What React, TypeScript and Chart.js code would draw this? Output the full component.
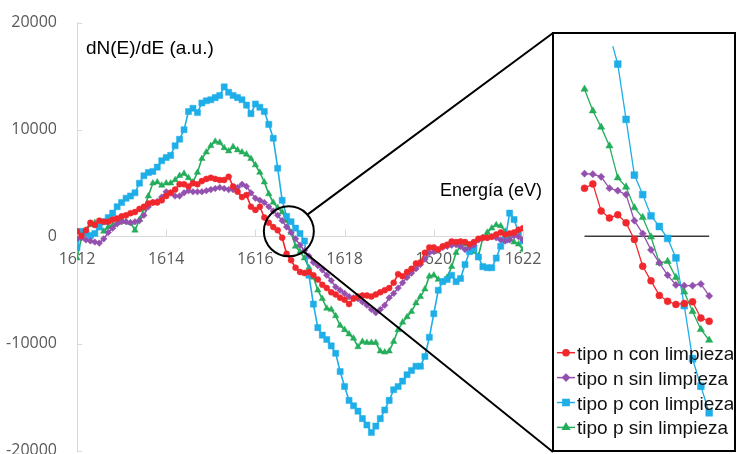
import React, { useEffect, useRef } from 'react';
import { Chart, registerables } from 'chart.js';
import { drawPoint } from 'chart.js/helpers';

Chart.register(...registerables);

// ---------- main chart data ----------
const energies = [
  1612.0, 1612.1, 1612.2, 1612.3, 1612.4, 1612.5, 1612.6, 1612.7, 1612.8, 1612.9,
  1613.0, 1613.1, 1613.2, 1613.3, 1613.4, 1613.5, 1613.6, 1613.7, 1613.8, 1613.9,
  1614.0, 1614.1, 1614.2, 1614.3, 1614.4, 1614.5, 1614.6, 1614.7, 1614.8, 1614.9,
  1615.0, 1615.1, 1615.2, 1615.3, 1615.4, 1615.5, 1615.6, 1615.7, 1615.8, 1615.9,
  1616.0, 1616.1, 1616.2, 1616.3, 1616.4, 1616.5, 1616.6, 1616.7, 1616.8, 1616.9,
  1617.0, 1617.1, 1617.2, 1617.3, 1617.4, 1617.5, 1617.6, 1617.7, 1617.8, 1617.9,
  1618.0, 1618.1, 1618.2, 1618.3, 1618.4, 1618.5, 1618.6, 1618.7, 1618.8, 1618.9,
  1619.0, 1619.1, 1619.2, 1619.3, 1619.4, 1619.5, 1619.6, 1619.7, 1619.8, 1619.9,
  1620.0, 1620.1, 1620.2, 1620.3, 1620.4, 1620.5, 1620.6, 1620.7, 1620.8, 1620.9,
  1621.0, 1621.1, 1621.2, 1621.3, 1621.4, 1621.5, 1621.6, 1621.7, 1621.8, 1621.9,
  1622.0,
];

const tipoNCon = [
  500, 100, 600, 1300, 1100, 1500, 1400, 1400, 1600, 1700,
  1900, 2000, 2200, 2300, 2600, 2800, 3100, 3200, 3200, 3400,
  3800, 4100, 4400, 4900, 4900, 4700, 5000, 4900, 5200, 5400,
  5500, 5400, 5300, 5300, 5600, 4700, 4200, 3700, 3900, 2800,
  2500, 2800, 1800, 1300, 900, 600, -100, -1600, -2200, -2900,
  -3300, -3400, -3300, -3600, -4000, -4500, -4800, -5200, -5400, -5700,
  -5900, -6300, -5800, -5600, -5500, -5500, -5600, -5400, -5200, -5000,
  -4800, -4300, -3500, -3700, -3300, -3000, -2500, -2400, -1500, -1000,
  -1000, -1200, -900, -750, -450, -500, -450, -500, -700, -500,
  -200, -100, -100, 0, 200, 400, 200, 300, 400, 650,
  800,
];

const tipoNSin = [
  -200, -100, -300, -400, -500, -600, -200, 400, 800, 1200,
  1400, 1400, 1300, 1400, 1500, 2000, 2800, 3200, 3300, 3700,
  4200, 4100, 3800, 3800, 4100, 4300, 4200, 4200, 4200, 4300,
  4400, 4500, 4600, 4500, 4400, 4400, 4600, 4900, 4700, 4100,
  3600, 3400, 3200, 2800, 2400, 2000, 1500, 900, 400, -200,
  -800, -1300, -1800, -2400, -2700, -3100, -3600, -4100, -4700, -5000,
  -5300, -5600, -5700, -5800, -6100, -6400, -6800, -7100, -6800, -6400,
  -5700, -5300, -4800, -4300, -3800, -3400, -3000, -2600, -2100, -1500,
  -1400, -1200, -1000, -900, -800, -750, -900, -1200, -1000, -800,
  -300, -100, -100, 0, -100, -300, -400, -300, 100, 0,
  -300,
];

const tipoPCon = [
  -1000, 500, 300, 100, 300, 900, 1400, 1800, 2200, 2800,
  3200, 3600, 3800, 4100, 5000, 5700, 6000, 6100, 6500, 7100,
  7400, 7600, 8500, 9100, 10000, 11700, 12000, 11600, 12500, 12700,
  12800, 13000, 13200, 14000, 13500, 13200, 13000, 12800, 12300, 11500,
  12400, 12100, 11700, 10500, 9200, 6400, 3400, 1900, 1400, 800,
  300, -400, -3600, -6300, -8500, -9200, -9600, -10200, -10900, -12600,
  -14000, -15300, -15800, -16300, -17000, -17600, -18300, -17700, -17000, -16200,
  -15300, -14300, -14000, -13500, -12900, -12500, -12100, -12100, -11200, -9400,
  -7200, -5000, -4200, -4000, -3600, -4200, -3900, -2600, -1400, -1100,
  -1900, -2800, -2900, -2900, -2000, -900, -300, 2200, 1600, 400,
  -400,
];

const tipoPSin = [
  -2000, -100, 600, 1100, 1300, 900, 500, 900, 1100, 1300,
  1600, 1400, 1300, 600, 1600, 2600, 3800, 5000, 5100, 4800,
  5000, 5000, 5300, 5700, 5900, 5500, 5100, 6000, 7300, 7900,
  8500, 8900, 8800, 8300, 8000, 8400, 8100, 7900, 7700, 7300,
  6700, 6000, 5100, 4000, 3200, 2700, 2300, 1500, 400, -900,
  -1400, -2000, -2900, -3800, -5000, -5800, -6700, -6800, -7400, -8300,
  -8700, -9100, -9500, -10300, -9800, -9900, -9900, -9900, -10700, -10800,
  -10700, -9800, -8700, -8000, -7500, -7000, -6200, -5600, -4900, -3700,
  -3600, -4000, -4200, -3800, -2800, -1500, -900, -700, -1000, -1400,
  -1800, -100, 400, 800, 1100, 1000, 500, -200, -500, -700,
  -1200,
];

const xTickValues = [1612, 1614, 1616, 1618, 1620, 1622];
const yTickValues = [-20000, -10000, 0, 10000, 20000];

// ---------- inset (zoom) data ----------
const insetEnergies = [
  1616.40, 1616.45, 1616.50, 1616.55, 1616.60, 1616.65, 1616.70, 1616.75,
  1616.80, 1616.85, 1616.90, 1616.95, 1617.00, 1617.05, 1617.10, 1617.15,
];
const insetNCon = [1970, 2150, 1040, 750, 880, 550, -130, -1230, -1830, -2430, -2670, -2800, -2760, -2690, -3360, -3490];
const insetNSin = [2570, 2550, 2440, 1970, 1870, 1710, 640, 110, -560, -1090, -1600, -2000, -2030, -2030, -1960, -2450];
const insetPCon = [12500, 11200, 9800, 8300, 7070, 4800, 2510, 1710, 840, 400, -90, -890, -2850, -5030, -6160, -7250];
const insetPSin = [6040, 5150, 4480, 3710, 2400, 2020, 1170, 770, -30, -1090, -1030, -1690, -2290, -3090, -3830, -4270];
const insetZero = [0, 0, 0, 0, 0, 0, 0, 0, 0, 0, 0, 0, 0, 0, 0, 0];

const seriesNames = ['tipo n con limpieza', 'tipo n sin limpieza', 'tipo p con limpieza', 'tipo p sin limpieza'];
const seriesColors = ['#f0282d', '#9450ae', '#1eaee8', '#24ad5a'];
const seriesMarkers = ['circle', 'rectRot', 'rect', 'triangle'];
const mainRadius = [3, 3.3, 4.3, 3.7];
const insetRadius = [3.5, 3.6, 4.8, 4.2];
const legendRadius = [3, 3.3, 4.4, 3.8];

const TICK_FONT = "'Open Sans', 'Liberation Sans', sans-serif";
const TEXT_FONT = "'Liberation Sans', Arial, sans-serif";

// zoom-circle annotation position (data coords)
const zoomCenterE = 1616.75;
const zoomCenterV = 500;

export default function App() {
  const mainRef = useRef<HTMLCanvasElement>(null);
  const insetRef = useRef<HTMLCanvasElement>(null);

  useEffect(() => {
    const mainSeries = [tipoNCon, tipoNSin, tipoPCon, tipoPSin];
    const decor = {
      id: 'decor',
      beforeDatasetsDraw(chart: any) {
        const { ctx, scales } = chart;
        const xs = scales.x;
        const ys = scales.y;
        const y0 = ys.getPixelForValue(0);
        const left = chart.chartArea.left;
        ctx.save();
        ctx.strokeStyle = '#d9d9d9';
        ctx.lineWidth = 1;
        ctx.beginPath();
        yTickValues.forEach((v) => {
          const py = Math.round(ys.getPixelForValue(v)) + 0.5;
          ctx.moveTo(left, py);
          ctx.lineTo(left + 5, py);
        });
        xTickValues.forEach((v) => {
          const px = Math.round(xs.getPixelForValue(v)) + 0.5;
          ctx.moveTo(px, y0);
          ctx.lineTo(px, y0 - 7);
        });
        ctx.stroke();
        ctx.restore();
      },
      afterDatasetsDraw(chart: any) {
        const { ctx, scales } = chart;
        const cx = scales.x.getPixelForValue(zoomCenterE);
        const cy = scales.y.getPixelForValue(zoomCenterV);
        const r = 25;
        ctx.save();
        ctx.strokeStyle = '#000';
        ctx.lineWidth = 2;
        ctx.beginPath();
        ctx.arc(cx, cy, r, 0, Math.PI * 2);
        ctx.stroke();
        const a1 = (-42 * Math.PI) / 180;
        const a2 = (54 * Math.PI) / 180;
        ctx.beginPath();
        ctx.moveTo(cx + r * Math.cos(a1), cy + r * Math.sin(a1));
        ctx.lineTo(553, 33);
        ctx.moveTo(cx + r * Math.cos(a2), cy + r * Math.sin(a2));
        ctx.lineTo(553, 452);
        ctx.stroke();
        ctx.fillStyle = '#000';
        ctx.textBaseline = 'alphabetic';
        ctx.textAlign = 'left';
        ctx.font = `19px ${TEXT_FONT}`;
        ctx.fillText('dN(E)/dE (a.u.)', 86, 53.5);
        ctx.font = `18px ${TEXT_FONT}`;
        ctx.fillText('Energía (eV)', 440, 196);
        ctx.restore();
      },
    };

    const main = new Chart(mainRef.current as HTMLCanvasElement, {
      type: 'line',
      data: {
        labels: energies,
        datasets: mainSeries.map((d, k) => ({
          label: seriesNames[k],
          data: d,
          borderColor: seriesColors[k],
          backgroundColor: seriesColors[k],
          pointBackgroundColor: seriesColors[k],
          pointBorderColor: seriesColors[k],
          pointStyle: seriesMarkers[k] as any,
          pointRadius: mainRadius[k],
          pointBorderWidth: 0.5,
          borderWidth: 1.6,
          tension: 0,
          fill: false,
        })),
      },
      options: {
        responsive: false,
        animation: false,
        layout: { padding: { top: 22.7, right: 213, bottom: 19.3, left: 0 } },
        plugins: { legend: { display: false }, tooltip: { enabled: false }, title: { display: false } },
        scales: {
          x: {
            type: 'linear',
            min: 1612,
            max: 1622,
            position: { y: 0 } as any,
            grid: { display: false, drawTicks: false },
            border: { display: true, color: '#d9d9d9', width: 1 },
            ticks: {
              color: '#595959',
              font: { family: TICK_FONT, size: 16 },
              padding: 13,
              maxRotation: 0,
              autoSkip: false,
              callback: (v: any) => String(v),
            },
            afterBuildTicks: (s: any) => {
              s.ticks = xTickValues.map((v) => ({ value: v }));
            },
          },
          y: {
            type: 'linear',
            min: -20000,
            max: 20000,
            grid: { display: false, drawTicks: true, tickLength: 18, tickColor: 'rgba(0,0,0,0)' },
            border: { display: true, color: '#d9d9d9', width: 1 },
            ticks: {
              color: '#595959',
              font: { family: TICK_FONT, size: 16 },
              padding: 2,
              callback: (v: any) => String(v),
            },
            afterBuildTicks: (s: any) => {
              s.ticks = yTickValues.map((v) => ({ value: v }));
            },
            afterFit: (s: any) => {
              s.width = 77;
            },
          },
        },
      },
      plugins: [decor],
    });

    const insetSeries = [insetNCon, insetNSin, insetPCon, insetPSin];
    const legendPlugin = {
      id: 'insetLegend',
      afterDraw(chart: any) {
        const { ctx } = chart;
        ctx.save();
        seriesNames.forEach((name, k) => {
          const y = 311.7 + 24.9 * k;
          ctx.strokeStyle = seriesColors[k];
          ctx.fillStyle = seriesColors[k];
          ctx.lineWidth = 1.5;
          ctx.beginPath();
          ctx.moveTo(1, y);
          ctx.lineTo(19, y);
          ctx.stroke();
          drawPoint(ctx, { pointStyle: seriesMarkers[k] as any, radius: legendRadius[k], borderWidth: 0.5, rotation: 0 } as any, 10, y);
          ctx.fillStyle = '#111';
          ctx.font = `19px ${TEXT_FONT}`;
          ctx.textBaseline = 'alphabetic';
          ctx.textAlign = 'left';
          ctx.fillText(name, 21, y + 7);
        });
        ctx.restore();
      },
    };

    const inset = new Chart(insetRef.current as HTMLCanvasElement, {
      type: 'line',
      data: {
        labels: insetEnergies,
        datasets: [
          ...insetSeries.map((d, k) => ({
            label: seriesNames[k],
            data: d,
            borderColor: seriesColors[k],
            backgroundColor: seriesColors[k],
            pointBackgroundColor: seriesColors[k],
            pointBorderColor: seriesColors[k],
            pointStyle: seriesMarkers[k] as any,
            pointRadius: insetRadius[k],
            pointBorderWidth: 0.5,
            borderWidth: 1.3,
            tension: 0,
            fill: false,
            order: k,
          })),
          {
            label: 'cero',
            data: insetZero,
            borderColor: '#3c3c3c',
            borderWidth: 1.5,
            pointRadius: 0,
            tension: 0,
            fill: false,
            order: 10,
          },
        ],
      },
      options: {
        responsive: false,
        animation: false,
        layout: { padding: 0 },
        plugins: { legend: { display: false }, tooltip: { enabled: false } },
        scales: {
          x: { type: 'linear', display: false, min: 1616.2603, max: 1617.2614 },
          y: { type: 'linear', display: false, min: -8560, max: 7800 },
        },
      },
      plugins: [legendPlugin],
    });

    return () => {
      main.destroy();
      inset.destroy();
    };
  }, []);

  return (
    <div style={{ position: 'fixed', left: 0, top: 0, width: 736, height: 454, overflow: 'hidden', background: '#fff' }}>
      <canvas
        ref={mainRef}
        width={736}
        height={470}
        style={{ position: 'absolute', left: 0, top: 0, width: 736, height: 470 }}
      />
      <div
        style={{
          position: 'absolute',
          left: 552,
          top: 32,
          width: 184,
          height: 420,
          border: '2.5px solid #000',
          boxSizing: 'border-box',
        }}
      />
      <canvas
        ref={insetRef}
        width={177}
        height={409}
        style={{ position: 'absolute', left: 556, top: 41, width: 177, height: 409 }}
      />
    </div>
  );
}
